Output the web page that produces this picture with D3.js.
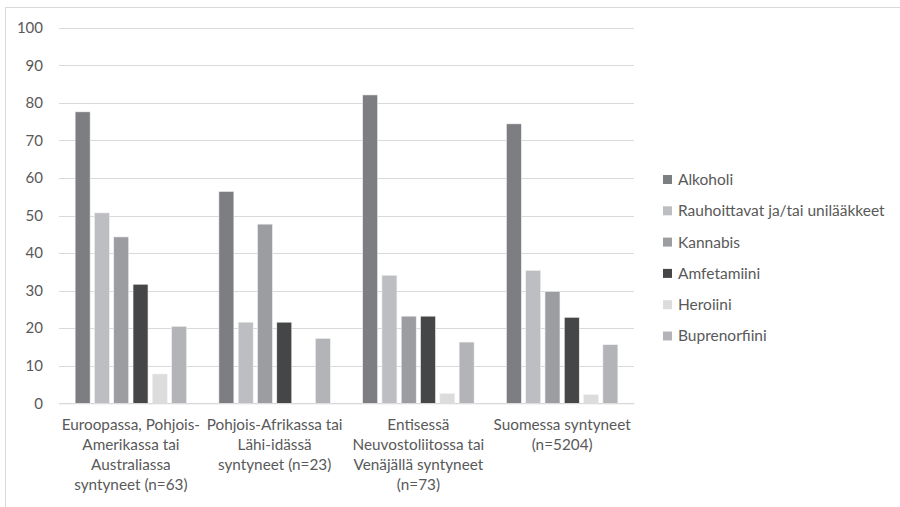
<!DOCTYPE html>
<html><head><meta charset="utf-8">
<script src="https://cdn.jsdelivr.net/npm/d3@7"></script>
<style>body{margin:0;background:#fff}svg{display:block}text{font-family:Lato,"Open Sans",sans-serif;fill:#595959}</style>
</head><body>
<script>
const categories = [
  ["Euroopassa, Pohjois-","Amerikassa tai","Australiassa","syntyneet (n=63)"],
  ["Pohjois-Afrikassa tai","Lähi-idässä","syntyneet (n=23)"],
  ["Entisessä","Neuvostoliitossa tai","Venäjällä syntyneet","(n=73)"],
  ["Suomessa syntyneet","(n=5204)"]
];
const seriesNames = ["Alkoholi","Rauhoittavat ja/tai unilääkkeet","Kannabis","Amfetamiini","Heroiini","Buprenorfiini"];
const alkoholi = [77.6, 56.4, 82.1, 74.4];
const rauhoittavat = [50.7, 21.6, 34.1, 35.4];
const kannabis = [44.3, 47.7, 23.2, 29.8];
const amfetamiini = [31.7, 21.6, 23.2, 22.9];
const heroiini = [7.8, 0, 2.6, 2.3];
const buprenorfiini = [20.5, 17.3, 16.3, 15.6];
const yTicks = [0,10,20,30,40,50,60,70,80,90,100];
const colors = ["#7d7e81","#bdbec1","#9c9da0","#454648","#dcdcdd","#b3b4b7"];

(function(){
const series = [alkoholi, rauhoittavat, kannabis, amfetamiini, heroiini, buprenorfiini];
const W = 900, H = 507;
const svg = d3.select("body").append("svg").attr("width", W).attr("height", H);
svg.append("rect").attr("x",5.5).attr("y",7.5).attr("width",W+10).attr("height",H+10)
  .attr("fill","none").attr("stroke","#d9d9d9");

const pL = 59, pR = 634, pT = 27.7, pB = 403.3;
const x0 = d3.scaleBand().domain(d3.range(categories.length)).range([pL, pR]).paddingInner(0).paddingOuter(0);
const x1 = d3.scaleBand().domain(d3.range(series.length)).range([0, x0.bandwidth()]).paddingInner(0.223).paddingOuter(0.836);
const y = d3.scaleLinear().domain([0,100]).range([pB, pT]);

const grid = svg.append("g");
grid.selectAll("line").data(yTicks).join("line")
  .attr("x1", pL).attr("x2", pR)
  .attr("y1", d => Math.round(y(d))+0.5).attr("y2", d => Math.round(y(d))+0.5)
  .attr("stroke","#d9d9d9").attr("stroke-width",1);

const yAxis = d3.axisLeft(y).tickValues(yTicks).tickSize(0).tickPadding(0);
const ya = svg.append("g").attr("transform",`translate(${pL-16},0)`).call(yAxis);
ya.select(".domain").remove();
ya.selectAll("text").style("font-size","15px").attr("fill","#595959").style("font-family","Lato,sans-serif");

const groups = svg.append("g").selectAll("g").data(categories).join("g")
  .attr("transform", (d,i) => `translate(${x0(i)},0)`);
groups.selectAll("rect").data((d,i) => series.map((s,j) => ({j, v: s[i]}))).join("rect")
  .attr("x", d => x1(d.j)).attr("width", x1.bandwidth())
  .attr("y", d => y(d.v)).attr("height", d => y(0) - y(d.v))
  .attr("fill", d => colors[d.j])
  .attr("stroke", "#f2f2f2").attr("stroke-width", 0.6);

const xAxis = d3.axisBottom(x0).tickSize(0).tickFormat("");
const xa = svg.append("g").attr("transform",`translate(0,${pB})`).call(xAxis);
xa.select(".domain").attr("stroke","#d9d9d9");

const lab = svg.append("g").selectAll("text").data(categories).join("text")
  .attr("text-anchor","middle").style("font-size","15.3px")
  .attr("transform", (d,i) => `translate(${x0(i)+x0.bandwidth()/2},${pB+27})`);
lab.selectAll("tspan").data(d => d).join("tspan")
  .attr("x",0).attr("dy",(d,i) => i===0 ? 0 : 20).text(d => d);

const legend = svg.append("g").selectAll("g").data(seriesNames).join("g")
  .attr("transform", (d,i) => `translate(663,${179.5 + i*31.3})`);
legend.append("rect").attr("x",0).attr("y",-4.5).attr("width",9).attr("height",9).attr("fill",(d,i)=>colors[i]);
legend.append("text").attr("x",15).attr("y",0).attr("dy","0.35em").style("font-size","15.5px").text(d=>d);
})();
</script>
</body></html>
